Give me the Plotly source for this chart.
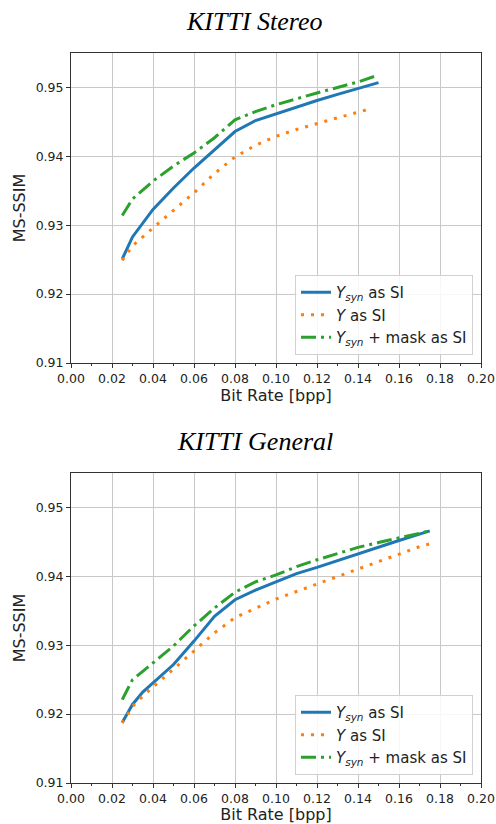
import plotly.graph_objects as go

# ---------- data ----------
titles = ["KITTI Stereo", "KITTI General"]

# KITTI Stereo
st_x_syn = [0.025, 0.03, 0.04, 0.05, 0.06, 0.07, 0.08, 0.09, 0.10, 0.11, 0.12, 0.13, 0.14, 0.15]
st_y_syn = [0.9251, 0.9283, 0.9323, 0.9354, 0.9383, 0.9410, 0.9436, 0.9452, 0.9462, 0.9472, 0.9481, 0.9490, 0.9498, 0.9507]
st_x_y = [0.025, 0.03, 0.04, 0.05, 0.06, 0.07, 0.08, 0.09, 0.10, 0.11, 0.12, 0.13, 0.14, 0.146]
st_y_y = [0.9249, 0.9270, 0.9296, 0.9321, 0.9347, 0.9375, 0.9399, 0.9416, 0.9429, 0.9439, 0.9448, 0.9456, 0.9464, 0.9469]
st_x_mask = [0.025, 0.03, 0.04, 0.05, 0.06, 0.07, 0.08, 0.09, 0.10, 0.11, 0.12, 0.13, 0.14, 0.15]
st_y_mask = [0.9314, 0.9338, 0.9364, 0.9386, 0.9405, 0.9427, 0.9453, 0.9465, 0.9475, 0.9484, 0.9492, 0.9500, 0.9508, 0.9518]

# KITTI General
ge_x_syn = [0.025, 0.03, 0.035, 0.04, 0.05, 0.06, 0.07, 0.08, 0.09, 0.10, 0.11, 0.12, 0.13, 0.14, 0.15, 0.16, 0.175]
ge_y_syn = [0.9188, 0.9214, 0.9232, 0.9245, 0.9272, 0.9306, 0.9342, 0.9366, 0.9380, 0.9392, 0.9404, 0.9413, 0.9423, 0.9432, 0.9442, 0.9452, 0.9466]
ge_x_y = [0.025, 0.03, 0.035, 0.04, 0.05, 0.06, 0.07, 0.08, 0.09, 0.10, 0.11, 0.12, 0.13, 0.14, 0.15, 0.16, 0.17, 0.176]
ge_y_y = [0.9187, 0.9211, 0.9226, 0.9239, 0.9265, 0.9291, 0.9318, 0.9340, 0.9354, 0.9367, 0.9378, 0.9389, 0.9400, 0.9411, 0.9422, 0.9432, 0.9443, 0.9448]
ge_x_mask = [0.025, 0.03, 0.035, 0.04, 0.05, 0.06, 0.07, 0.08, 0.09, 0.10, 0.11, 0.12, 0.13, 0.14, 0.15, 0.16, 0.175]
ge_y_mask = [0.9221, 0.9250, 0.9262, 0.9274, 0.9299, 0.9328, 0.9354, 0.9377, 0.9392, 0.9402, 0.9414, 0.9424, 0.9433, 0.9442, 0.9449, 0.9456, 0.9466]

series_names = ["<i>Y</i><sub><i>syn</i></sub> as SI",
                "<i>Y</i> as SI",
                "<i>Y</i><sub><i>syn</i></sub> + mask as SI"]

x_ticks = [0.00, 0.02, 0.04, 0.06, 0.08, 0.10, 0.12, 0.14, 0.16, 0.18, 0.20]
y_ticks = [0.91, 0.92, 0.93, 0.94, 0.95]

# ---------- figure ----------
W, H = 496, 824
BLUE, ORANGE, GREEN = "#1f77b4", "#ff7f0e", "#2ca02c"
FONT = "DejaVu Sans"

def px(x):
    return x / W

def py(y):
    return 1 - y / H

fig = go.Figure()

panels = [
    (st_x_syn, st_y_syn, st_x_y, st_y_y, st_x_mask, st_y_mask, "x", "y", "legend"),
    (ge_x_syn, ge_y_syn, ge_x_y, ge_y_y, ge_x_mask, ge_y_mask, "x2", "y2", "legend2"),
]
for xs, ys, xy, yy, xm, ym, xa, ya, lg in panels:
    fig.add_trace(go.Scatter(x=xs, y=ys, mode="lines", name=series_names[0],
                             line=dict(color=BLUE, width=3), xaxis=xa, yaxis=ya, legend=lg))
    fig.add_trace(go.Scatter(x=xy, y=yy, mode="lines", name=series_names[1],
                             line=dict(color=ORANGE, width=3, dash="3px,7px"), xaxis=xa, yaxis=ya, legend=lg))
    fig.add_trace(go.Scatter(x=xm, y=ym, mode="lines", name=series_names[2],
                             line=dict(color=GREEN, width=3, dash="15px,5px,3px,5px"), xaxis=xa, yaxis=ya, legend=lg))

dom_x = [px(71), px(481)]
dom_top = [py(363), py(53)]
dom_bot = [py(783), py(473)]

def xaxis(anchor):
    return dict(domain=dom_x, anchor=anchor, range=[0, 0.2], automargin=False,
                tickmode="array", tickvals=x_ticks,
                ticktext=[f"{v:.2f}" for v in x_ticks],
                ticklabeloverflow="allow",
                ticks="outside", ticklen=4, tickwidth=1, tickcolor="#333",
                minor=dict(ticks="outside", dtick=0.01, tick0=0, ticklen=2, tickcolor="#333", showgrid=False),
                showline=True, linecolor="#333", linewidth=1, mirror=True,
                showgrid=True, gridcolor="#c8c8c8", gridwidth=1,
                zeroline=False,
                tickfont=dict(family=FONT, size=12.5, color="#222"),
                title=dict(text="Bit Rate [bpp]", font=dict(family=FONT, size=16, color="#222"), standoff=1))

def yaxis(anchor, dom):
    return dict(domain=dom, anchor=anchor, range=[0.91, 0.955], automargin=False,
                tickmode="array", tickvals=y_ticks,
                ticktext=[f"{v:.2f}" for v in y_ticks],
                ticklabeloverflow="allow",
                ticks="outside", ticklen=4, tickwidth=1, tickcolor="#333",
                showline=True, linecolor="#333", linewidth=1, mirror=True,
                showgrid=True, gridcolor="#c8c8c8", gridwidth=1,
                zeroline=False,
                tickfont=dict(family=FONT, size=12.5, color="#222"),
                title=dict(text="MS-SSIM", font=dict(family=FONT, size=16, color="#222"), standoff=6))

legend_common = dict(xanchor="right", yanchor="bottom", bgcolor="rgba(255,255,255,0.85)",
                     bordercolor="#d0d0d0", borderwidth=1,
                     font=dict(family=FONT, size=15, color="#222"), tracegroupgap=0)

fig.update_layout(
    width=W, height=H,
    margin=dict(l=0, r=0, t=0, b=0),
    paper_bgcolor="white", plot_bgcolor="white",
    xaxis=xaxis("y"), yaxis=yaxis("x", dom_top),
    xaxis2=xaxis("y2"), yaxis2=yaxis("x2", dom_bot),
    legend=dict(x=px(473), y=py(355), **legend_common),
    legend2=dict(x=px(473), y=py(775), **legend_common),
    showlegend=True,
    annotations=[
        dict(text=f"<i>{titles[0]}</i>", x=px(254), y=py(22), xref="paper", yref="paper",
             xanchor="center", yanchor="middle", showarrow=False,
             font=dict(family="Liberation Serif", size=26, color="black")),
        dict(text=f"<i>{titles[1]}</i>", x=px(255), y=py(441), xref="paper", yref="paper",
             xanchor="center", yanchor="middle", showarrow=False,
             font=dict(family="Liberation Serif", size=26, color="black")),
    ],
)

# remove the default page margin so the 496x824 figure fills the window exactly
page_css = ("document.documentElement.style.overflow='hidden';"
            "document.body.style.margin='0';"
            "document.body.style.overflow='hidden';")

fig.write_html("out.html", post_script=page_css, config={"displayModeBar": False})
